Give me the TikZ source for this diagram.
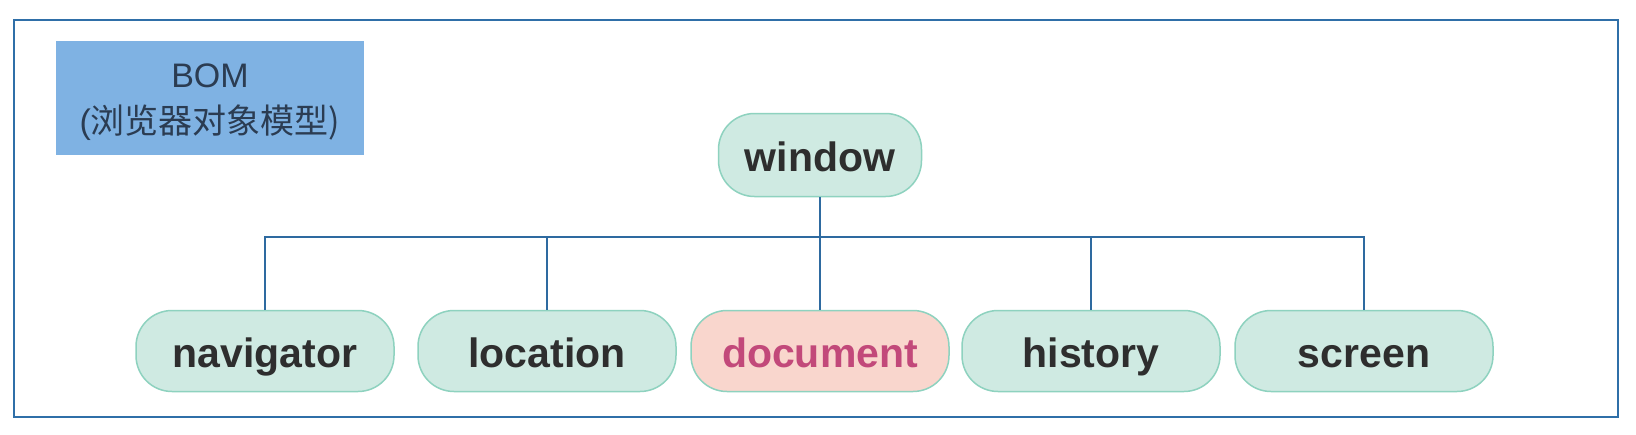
\documentclass[tikz,border=0pt]{standalone}
\usepackage{fontspec}
\setmainfont{Liberation Sans}
\newfontfamily\cjk{Noto Sans CJK SC}
\definecolor{framec}{HTML}{2F6FA8}
\definecolor{linec}{HTML}{2E6AA0}
\definecolor{bomfill}{HTML}{7FB2E3}
\definecolor{bomtext}{HTML}{2B3C52}
\definecolor{nodefill}{HTML}{CFEAE2}
\definecolor{nodedraw}{HTML}{8ED2BF}
\definecolor{docfill}{HTML}{F9D6CD}
\definecolor{doctext}{HTML}{C2497A}
\definecolor{nodetext}{HTML}{2E2E2E}
\tikzset{
  objbox/.style={draw=nodedraw, fill=nodefill, line width=1.5pt, rounded corners=36pt,
    minimum width=258pt, minimum height=81pt, inner sep=0pt, text height=33pt, text depth=1pt,
    font=\fontsize{41}{41}\selectfont\bfseries, text=nodetext},
  docbox/.style={objbox, fill=docfill, text=doctext},
  conn/.style={draw=linec, line width=2pt}
}
\begin{document}
\begin{tikzpicture}[x=1pt,y=-1pt]
\useasboundingbox (0,0) rectangle (1636,434);
\fill[white] (0,0) rectangle (1636,434);
\draw[framec, line width=2.5pt] (14,20) rectangle (1618,417);
\node[fill=bomfill, minimum width=308pt, minimum height=114pt, inner sep=0pt] (bom) at (210,98) {};
\node[align=center, text=bomtext, font=\fontsize{34}{46}\selectfont, inner sep=0pt] (bomlabel)
  at ([yshift=-4pt]bom.center) {BOM\\(\cjk 浏览器对象模型)};
\node[objbox, minimum width=203pt, minimum height=83pt] (window) at (820,155) {window};
\node[objbox] (navigator) at (265,351) {navigator};
\node[objbox] (location) at (547,351) {location};
\node[docbox] (document) at (820,351) {document};
\node[objbox] (history) at (1091,351) {history};
\node[objbox] (screen) at (1364,351) {screen};
\coordinate (bus) at (820,237);
\draw[conn] (window.south) -- (bus);
\draw[conn] (bus) -| (navigator.north);
\draw[conn] (bus) -| (location.north);
\draw[conn] (bus) -- (document.north);
\draw[conn] (bus) -| (history.north);
\draw[conn] (bus) -| (screen.north);
\end{tikzpicture}
\end{document}
